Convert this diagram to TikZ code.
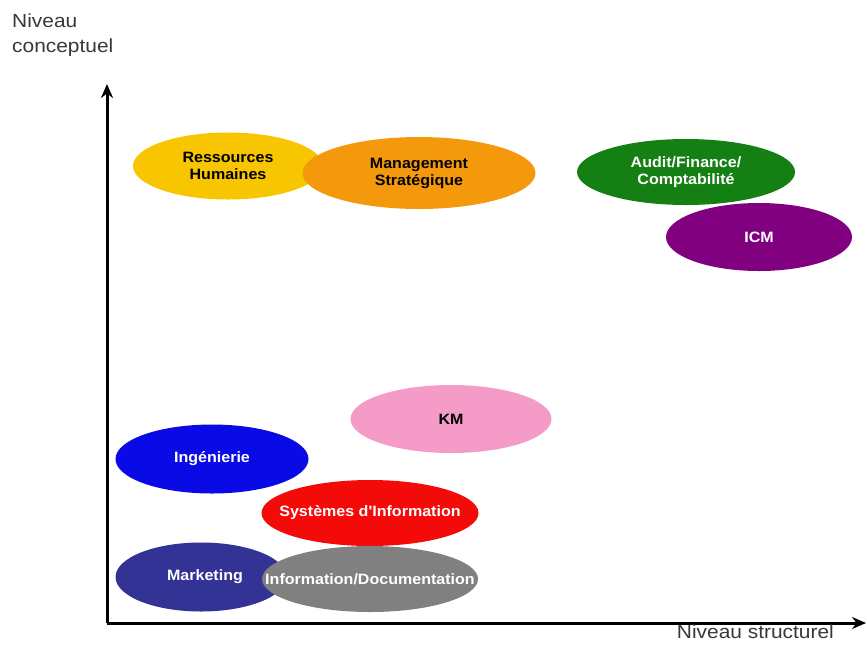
\documentclass[tikz,border=0pt]{standalone}
\usepackage{fontspec}
\setmainfont{Liberation Sans}
\newfontfamily\lblfont[FakeStretch=1.07]{Liberation Sans}
\newfontfamily\axfont[FakeStretch=1.1]{Liberation Sans}
\usetikzlibrary{shapes.geometric,arrows.meta}
\definecolor{cyellow}{RGB}{247,198,0}
\definecolor{corange}{RGB}{244,152,12}
\definecolor{cgreen}{RGB}{20,128,20}
\definecolor{cpurple}{RGB}{128,0,128}
\definecolor{cpink}{RGB}{245,155,200}
\definecolor{cblue}{RGB}{10,10,230}
\definecolor{cred}{RGB}{245,10,10}
\definecolor{cnavy}{RGB}{51,51,150}
\definecolor{cgray}{RGB}{128,128,128}
\tikzset{
  blob/.style={ellipse, inner sep=0pt},
  blobtext/.style={align=center, inner sep=0pt, font=\lblfont\bfseries\fontsize{15}{17}\selectfont},
  axis/.style={line width=3pt, -{Stealth[length=14pt,width=12pt]}},
  axlabel/.style={font=\axfont\fontsize{19}{25}\selectfont, align=left, inner sep=0pt, text=black!78}
}
\begin{document}
\begin{tikzpicture}[x=1pt,y=-1pt]
\useasboundingbox (0,0) rectangle (867,649);
% axes
\coordinate (O) at (107,623);
\coordinate (Ytip) at (107,84);
\coordinate (Xtip) at (866,623);
\draw[axis] (O) -- (Ytip);
\draw[axis] (O) -- (Xtip);
\node[axlabel, anchor=north west] (ylab) at (12,14) {Niveau\\conceptuel};
\node[axlabel, anchor=north east] (xlab) at (834,625) {Niveau structurel};
% ellipses
\node[blob, fill=cyellow, minimum width=190pt, minimum height=67pt] (rh) at (228,166) {};
\node[blob, fill=corange, minimum width=233pt, minimum height=72pt] (ms) at (419,173) {};
\node[blob, fill=cgreen, minimum width=218pt, minimum height=66pt] (af) at (686,172) {};
\node[blob, fill=cpurple, minimum width=186pt, minimum height=68pt] (icm) at (759,237) {};
\node[blob, fill=cpink, minimum width=201pt, minimum height=68pt] (km) at (451,419) {};
\node[blob, fill=cblue, minimum width=193pt, minimum height=69pt] (ing) at (212,459) {};
\node[blob, fill=cred, minimum width=217pt, minimum height=66pt] (si) at (370,513) {};
\node[blob, fill=cnavy, minimum width=171pt, minimum height=69pt] (mk) at (201,577) {};
\node[blob, fill=cgray, minimum width=216pt, minimum height=66pt] (id) at (370,579) {};
% labels
\node[blobtext] (rht) at (rh.center) {Ressources\\Humaines};
\node[blobtext] (mst) at (ms.center) {Management\\Strat\'egique};
\node[blobtext, text=white] (aft) at (af.center) {Audit/Finance/\\Comptabilit\'e};
\node[blobtext, text=white] (icmt) at (icm.center) {ICM};
\node[blobtext] (kmt) at (km.center) {KM};
\node[blobtext, text=white] (ingt) at (ing.center) {Ing\'enierie};
\node[blobtext, text=white] (sit) at (si.center) {Syst\`emes d'Information};
\node[blobtext, text=white] (mkt) at (205,577) {Marketing};
\node[blobtext, text=white] (idt) at (id.center) {Information/Documentation};
\end{tikzpicture}
\end{document}
